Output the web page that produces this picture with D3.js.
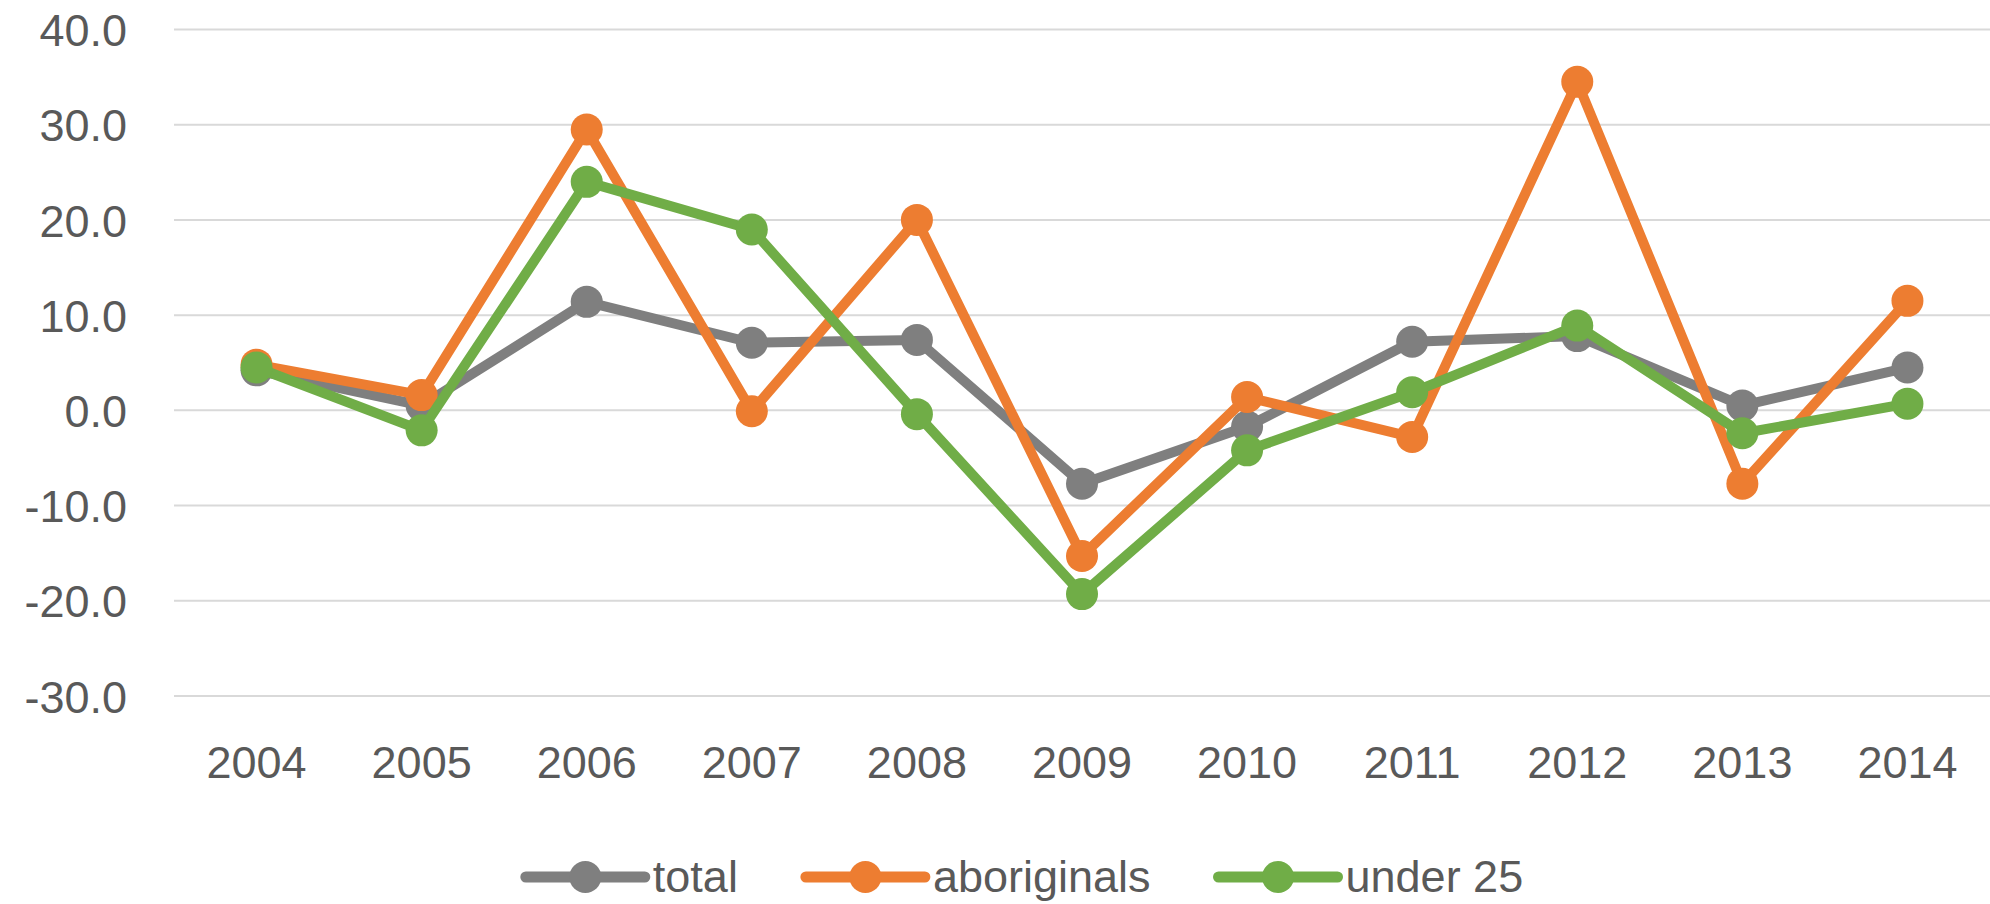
<!DOCTYPE html>
<html>
<head>
<meta charset="utf-8">
<script src="https://cdn.jsdelivr.net/npm/d3@7"></script>
<style>
  html, body { margin: 0; padding: 0; background: #fff; }
  svg { display: block; }
  text { font-family: "Liberation Sans", Arial, sans-serif; fill: #595959; }
</style>
</head>
<body>
<svg id="chart" width="1990" height="904"></svg>
<script>
const years = ["2004","2005","2006","2007","2008","2009","2010","2011","2012","2013","2014"];
const total = [4.2, 0.5, 11.4, 7.1, 7.4, -7.7, -1.7, 7.2, 7.8, 0.5, 4.5];
const aboriginals = [4.8, 1.6, 29.5, -0.1, 20.0, -15.3, 1.4, -2.8, 34.5, -7.7, 11.5];
const under25 = [4.5, -2.1, 24.0, 19.0, -0.4, -19.3, -4.2, 1.9, 8.9, -2.4, 0.7];
const yTicks = [-30, -20, -10, 0, 10, 20, 30, 40];
const seriesNames = ["total", "aboriginals", "under 25"];
const seriesColors = ["#7f7f7f", "#ed7d31", "#70ad47"];
const seriesValues = [total, aboriginals, under25];

const svg = d3.select("#chart");
const plotLeft = 174, plotRight = 1990, plotTop = 29.5, plotBottom = 696;

const x = d3.scaleBand().domain(years).range([plotLeft, plotRight]);
const y = d3.scaleLinear().domain([-30, 40]).range([plotBottom, plotTop]);
const fs = 45;
const lw = 10;
const mr = 16;

// gridlines
svg.append("g").selectAll("line").data(yTicks).join("line")
  .attr("x1", plotLeft).attr("x2", plotRight)
  .attr("y1", d => y(d)).attr("y2", d => y(d))
  .attr("stroke", "#d9d9d9").attr("stroke-width", 2);

// y axis labels
const fmt = d => d3.format(".1f")(d).replace("\u2212", "-");
const yAxis = d3.axisLeft(y).tickValues(yTicks).tickFormat(fmt).tickSize(0).tickPadding(0);
const yg = svg.append("g").attr("transform", "translate(127,0)").call(yAxis);
yg.select(".domain").remove();
yg.selectAll("text").attr("font-size", fs).attr("font-family", "Liberation Sans, Arial, sans-serif").attr("fill", "#595959").attr("dy", "0.36em");

// x axis labels
const xAxis = d3.axisBottom(x).tickSize(0).tickPadding(0);
const xg = svg.append("g").attr("transform", "translate(0,778)").call(xAxis);
xg.select(".domain").remove();
xg.selectAll("text").attr("font-size", fs).attr("font-family", "Liberation Sans, Arial, sans-serif").attr("fill", "#595959").attr("dy", "0");

// series
const line = d3.line().x((d, i) => x(years[i]) + x.bandwidth() / 2).y(d => y(d));
seriesValues.forEach((vals, k) => {
  const g = svg.append("g");
  g.append("path").datum(vals).attr("d", line)
    .attr("fill", "none").attr("stroke", seriesColors[k]).attr("stroke-width", lw)
    .attr("stroke-linejoin", "round").attr("stroke-linecap", "round");
  g.selectAll("circle").data(vals).join("circle")
    .attr("cx", (d, i) => x(years[i]) + x.bandwidth() / 2)
    .attr("cy", d => y(d)).attr("r", mr).attr("fill", seriesColors[k]);
});

// legend
const legend = svg.append("g");
let cx = 0;
seriesNames.forEach((name, k) => {
  const g = legend.append("g").attr("transform", `translate(${cx},0)`);
  g.append("line").attr("x1", 0).attr("x2", 119).attr("y1", 0).attr("y2", 0)
    .attr("stroke", seriesColors[k]).attr("stroke-width", 11).attr("stroke-linecap", "round");
  g.append("circle").attr("cx", 59.5).attr("cy", 0).attr("r", mr).attr("fill", seriesColors[k]);
  const t = g.append("text").attr("x", 127).attr("y", 15).attr("font-size", fs).text(name);
  const w = t.node().getComputedTextLength();
  cx += 127 + w + 68;
});
const legendWidth = cx - 68;
legend.attr("transform", `translate(${(518 + 1531) / 2 - legendWidth / 2},877)`);
</script>
</body>
</html>
